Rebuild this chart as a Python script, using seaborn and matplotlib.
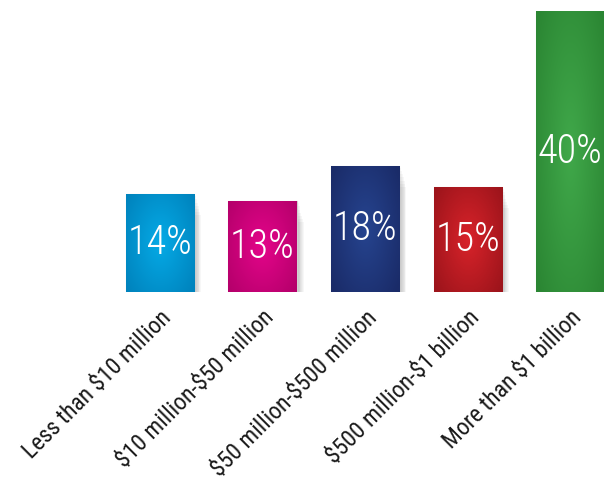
import numpy as np
import pandas as pd
import matplotlib
matplotlib.use("Agg")
import matplotlib.pyplot as plt
import matplotlib.patheffects as pe
from matplotlib import font_manager
from matplotlib.colors import LinearSegmentedColormap
import seaborn as sns

# Revenue bands and share of respondents (%)
categories = ["Less than $10 million", "$10 million-$50 million",
              "$50 million-$500 million", "$500 million-$1 billion",
              "More than $1 billion"]
shares = [14, 13, 18, 15, 40]
value_labels = ["14%", "13%", "18%", "15%", "40%"]

# (edge colour, centre colour) for each bar's radial shading
bar_edge = ["#0083bd", "#b5006b", "#1a2b68", "#9c141b", "#2b8633"]
bar_centre = ["#05aae6", "#e4058a", "#26448f", "#d8232a", "#40a84a"]


def pick_font(names):
    for n in names:
        try:
            font_manager.findfont(n, fallback_to_default=False)
            return n
        except Exception:
            continue
    return "DejaVu Sans"


sns.set_theme(style="white")
narrow = pick_font(["Liberation Sans Narrow", "Roboto Condensed", "Roboto", "Liberation Sans"])
plt.rcParams["font.family"] = [narrow, "DejaVu Sans"]

df = pd.DataFrame({"band": categories, "share": shares})

fig = plt.figure(figsize=(6.04, 4.98), dpi=100)
ax = fig.add_axes([0, 0.4137, 1, 0.5643])

sns.barplot(data=df, x="band", y="share", order=categories, ax=ax,
            width=0.665, color="#888888", saturation=1)

ax.set_xlim(-1.56, 4.33)
ax.set_ylim(0, 40)

# soft drop shadow under each bar
shadow = [pe.SimplePatchShadow(offset=(1.5 + 0.6 * k, -2 - 2.2 * k), shadow_rgbFace="#000000",
                               alpha=0.03) for k in range(7)]
shadow.append(pe.Normal())

yy, xx = np.mgrid[-1:1:200j, -1:1:200j]
for patch, c_edge, c_mid in zip(ax.patches, bar_edge, bar_centre):
    patch.set_edgecolor("#d0d0d0")
    patch.set_linewidth(0.8)
    patch.set_path_effects(shadow)
    x0, y0 = patch.get_x(), patch.get_y()
    w, h = patch.get_width(), patch.get_height()
    r = np.clip(np.sqrt(xx ** 2 + (yy * 0.85) ** 2) / 1.25, 0, 1)
    cmap = LinearSegmentedColormap.from_list("g", [c_mid, c_edge])
    im = ax.imshow(r, cmap=cmap, vmin=0, vmax=1, extent=[x0, x0 + w, y0, y0 + h],
                   aspect="auto", interpolation="bilinear", zorder=patch.get_zorder() + 0.1)
    im.set_clip_path(patch)

for i, (v, lab) in enumerate(zip(shares, value_labels)):
    ax.text(i, v / 2, lab, ha="center", va="center", color="white",
            fontsize=29, fontweight="light", zorder=10)

ax.set_xlabel("")
ax.set_ylabel("")
ax.set_yticks([])
ax.set_xticks(range(len(categories)))
ax.set_xticklabels([c.replace("$", r"\$") for c in categories])
ax.tick_params(axis="x", length=0, pad=10, labelsize=17)
for t in ax.get_xticklabels():
    t.set_rotation(45)
    t.set_ha("right")
    t.set_rotation_mode("anchor")
    t.set_color("#1a1a1a")
for s in ax.spines.values():
    s.set_visible(False)
ax.set_facecolor("white")

fig.savefig("out.png", dpi=100, facecolor="white")
